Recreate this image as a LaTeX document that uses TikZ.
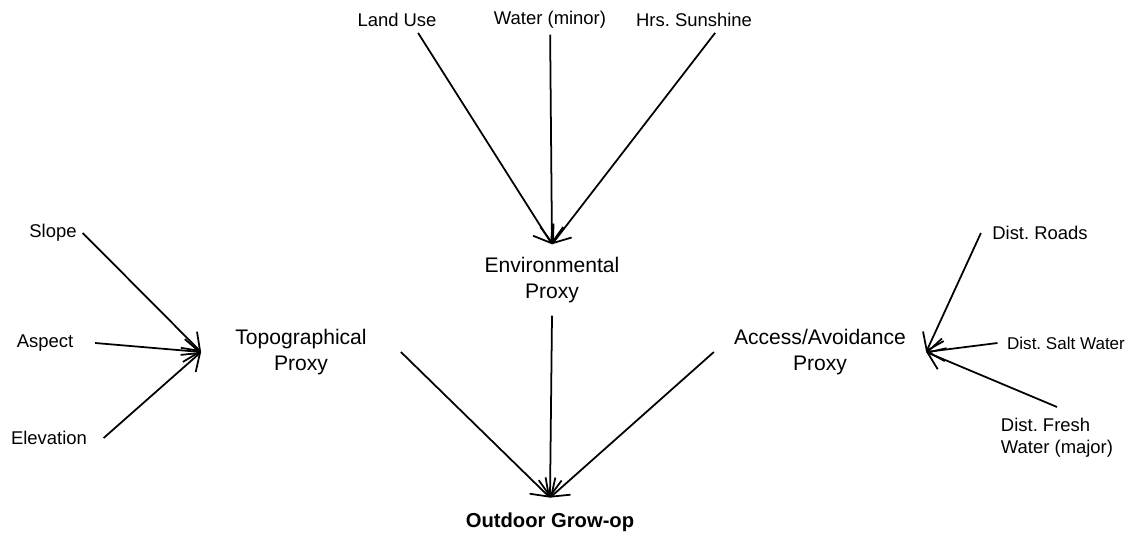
\documentclass[tikz,border=0pt]{standalone}
\usepackage{fontspec}
\setmainfont{Liberation Sans}
\usepackage{tikz}
\usetikzlibrary{arrows.meta, positioning}
\frenchspacing

\begin{document}
\begin{tikzpicture}[x=0.02cm, y=-0.02cm, line width=1pt,
    factor/.style={font=\fontsize{10.5}{12.5}\selectfont, inner sep=3pt},
    proxy/.style={font=\fontsize{12}{14.5}\selectfont, align=center},
    link/.style={-{Straight Barb[length=9pt, width=13pt]}}]
    \useasboundingbox (0,0) rectangle (1125,537);

    % proxies and the outcome
    \node (Env) [proxy, inner xsep=4pt, inner ysep=7pt] at (552,280) {Environmental\\Proxy};
    \node (Topo) [proxy, inner xsep=19pt, inner ysep=7pt] at (301,352) {Topographical\\Proxy};
    \node (Access) [proxy, inner xsep=11pt, inner ysep=7pt] at (820,352) {Access/Avoidance\\Proxy};
    \node (Outdoor) [font=\fontsize{11.5}{14}\selectfont\bfseries, inner ysep=8pt] at (550,522) {Outdoor Grow-op};

    % environmental inputs
    \node (LandUse) [factor] at (397,20) {Land Use};
    \node (WaterMinor) [factor] at (550,20) {Water (minor)};
    \node (Sunshine) [factor] at (694,20) {Hrs. Sunshine};

    % topographical inputs
    \node (Slope) [factor] at (53,233) {Slope};
    \node (Aspect) [factor, inner xsep=12pt] at (45,343) {Aspect};
    \node (Elevation) [factor, inner xsep=9pt] at (49,438) {Elevation};

    % access inputs
    \node (Roads) [factor, inner xsep=6pt] at (1040,233) {Dist. Roads};
    \node (SaltWater) [factor, font=\fontsize{9.7}{11.5}\selectfont, inner xsep=5pt] at (1066,343) {Dist. Salt Water};
    \node (FreshWater) [factor, align=left, inner ysep=6pt] at (1057,438) {Dist. Fresh\\Water (major)};

    \draw[link] ([xshift=12pt]LandUse.south) -- (Env.north);
    \draw[link] (WaterMinor) -- (Env.north);
    \draw[link] ([xshift=12pt]Sunshine.south) -- (Env.north);

    \draw[link] (Slope.east) -- (Topo.west);
    \draw[link] (Aspect.east) -- (Topo.west);
    \draw[link] (Elevation.east) -- (Topo.west);

    \draw[link] (Roads.west) -- (Access.east);
    \draw[link] (SaltWater.west) -- (Access.east);
    \draw[link] (FreshWater.north) -- (Access.east);

    \draw[link] (Topo.east) -- (Outdoor.north);
    \draw[link] (Env.south) -- (Outdoor.north);
    \draw[link] (Access.west) -- (Outdoor.north);
\end{tikzpicture}
\end{document}
